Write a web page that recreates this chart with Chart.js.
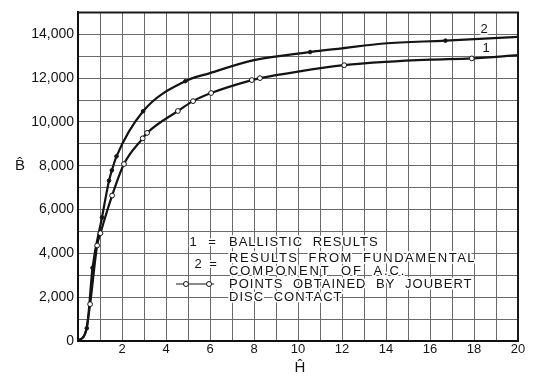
<!DOCTYPE html>
<html>
<head>
<meta charset="utf-8">
<script src="https://cdn.jsdelivr.net/npm/chart.js@4.4.1/dist/chart.umd.min.js"></script>
<style>
  html, body { margin: 0; padding: 0; background: #fff; }
  #wrap { width: 536px; height: 383px; }
</style>
</head>
<body>
<div id="wrap"><canvas id="chart" width="536" height="383"></canvas></div>
<script>
// Magnetisation curves: peak flux density B against peak field H
const xTickLabels = [2, 4, 6, 8, 10, 12, 14, 16, 18, 20];
const yTickLabels = [0, 2000, 4000, 6000, 8000, 10000, 12000, 14000];

// Curve 1 – ballistic results (open circles mark the Joubert disc points)
const curve1H = [0, 0.35, 0.55, 0.87, 1.02, 1.55, 2.09, 2.94, 3.14, 4.54, 5.23, 6.05, 7.9, 8.27, 10.0, 12.1, 14.0, 16.0, 17.9, 20.0];
const curve1B = [0, 420, 1680, 4360, 4920, 6640, 8080, 9250, 9500, 10500, 10950, 11320, 11910, 12000, 12300, 12590, 12740, 12840, 12900, 13050];
const curve1Mark = [0, 0, 1, 1, 1, 1, 1, 1, 1, 1, 1, 1, 1, 1, 0, 1, 0, 0, 1, 0];

// Curve 2 – results from fundamental component of a.c.
const curve2H = [0, 0.40, 0.66, 1.09, 1.41, 1.54, 1.75, 2.96, 4.88, 6.0, 8.0, 10.55, 12.0, 13.9, 16.7, 20.0];
const curve2B = [0, 580, 3340, 5640, 7320, 7790, 8430, 10490, 11860, 12230, 12820, 13190, 13360, 13580, 13710, 13880];
const curve2Mark = [0, 1, 1, 1, 1, 1, 1, 1, 1, 0, 0, 1, 0, 0, 1, 0];

const legendLines = [
  { text: 'BALLISTIC RESULTS', spacing: 1 },
  { text: 'RESULTS FROM FUNDAMENTAL', spacing: 1.5 },
  { text: 'COMPONENT OF A.C.', spacing: 1.9 },
  { text: 'POINTS OBTAINED BY JOUBERT', spacing: 1 },
  { text: 'DISC CONTACT', spacing: 1 }
];

const INK = '#141414';
const FONT = "'Liberation Sans', Arial, Helvetica, sans-serif";

function toPoints(hs, bs) {
  return hs.map((h, i) => ({ x: h, y: bs[i] }));
}

function haloText(ctx, str, x, y) {
  ctx.save();
  ctx.strokeStyle = '#fff';
  ctx.lineWidth = 3.5;
  ctx.lineJoin = 'round';
  ctx.strokeText(str, x, y);
  ctx.restore();
  ctx.fillText(str, x, y);
}

const decorations = {
  id: 'decorations',
  afterDraw(chart) {
    const { ctx, chartArea: a } = chart;
    ctx.save();

    // frame on the top and right edges
    ctx.strokeStyle = '#1a1a1a';
    ctx.lineWidth = 2;
    ctx.beginPath();
    ctx.moveTo(a.left, a.top);
    ctx.lineTo(a.right, a.top);
    ctx.lineTo(a.right, a.bottom);
    ctx.stroke();

    ctx.fillStyle = INK;
    ctx.textBaseline = 'middle';

    // axis titles
    ctx.font = '15px ' + FONT;
    ctx.textAlign = 'center';
    ctx.fillText('B\u0302', 20, 166);
    ctx.fillText('H\u0302', 300, 368);

    // curve numbers at the right-hand end
    ctx.font = '13px ' + FONT;
    haloText(ctx, '2', 484, 29);
    haloText(ctx, '1', 486, 48);

    // legend block inside the plot
    ctx.font = '13px ' + FONT;
    ctx.wordSpacing = '5px';
    const textX = 229;
    const rowY = [242, 258, 271, 284, 297];
    ctx.textAlign = 'left';
    legendLines.forEach((row, i) => {
      ctx.letterSpacing = row.spacing + 'px';
      haloText(ctx, row.text, textX, rowY[i]);
    });
    ctx.letterSpacing = '0px';
    ctx.wordSpacing = '0px';
    ctx.textAlign = 'center';
    haloText(ctx, '1', 193, 242);
    haloText(ctx, '=', 212, 242);
    haloText(ctx, '2', 198, 264);
    haloText(ctx, '=', 213, 264);

    // legend sample: line with open markers
    const ly = rowY[3];
    ctx.strokeStyle = INK;
    ctx.lineWidth = 1;
    ctx.beginPath();
    ctx.moveTo(176, ly);
    ctx.lineTo(214, ly);
    ctx.stroke();
    [186, 209].forEach(mx => {
      ctx.beginPath();
      ctx.arc(mx, ly, 2.5, 0, Math.PI * 2);
      ctx.fillStyle = '#fff';
      ctx.fill();
      ctx.stroke();
    });
    ctx.restore();
  }
};

new Chart(document.getElementById('chart'), {
  type: 'scatter',
  data: {
    datasets: [
      {
        label: '1',
        data: toPoints(curve1H, curve1B),
        showLine: true,
        cubicInterpolationMode: 'monotone',
        borderColor: INK,
        borderWidth: 2.2,
        pointRadius: curve1Mark.map(m => (m ? 2.4 : 0)),
        pointBackgroundColor: '#fff',
        pointBorderColor: INK,
        pointBorderWidth: 1
      },
      {
        label: '2',
        data: toPoints(curve2H, curve2B),
        showLine: true,
        cubicInterpolationMode: 'monotone',
        borderColor: INK,
        borderWidth: 2.2,
        pointRadius: curve2Mark.map(m => (m ? 1.8 : 0)),
        pointBackgroundColor: INK,
        pointBorderColor: INK,
        pointBorderWidth: 1
      }
    ]
  },
  options: {
    responsive: false,
    animation: false,
    layout: { padding: { top: 11, right: 18, left: 0, bottom: 0 } },
    plugins: { legend: { display: false }, tooltip: { enabled: false } },
    scales: {
      x: {
        type: 'linear',
        min: 0,
        max: 20,
        afterFit(scale) { scale.height = 42; },
        ticks: {
          stepSize: 1,
          autoSkip: false,
          maxRotation: 0,
          padding: 1,
          color: INK,
          font: { family: FONT, size: 13 },
          callback: v => (xTickLabels.includes(v) ? String(v) : '')
        },
        grid: { color: '#6a6a6a', lineWidth: 1, drawTicks: false },
        border: { color: '#111', width: 2 }
      },
      y: {
        min: 0,
        max: 15000,
        afterFit(scale) { scale.width = 78; },
        ticks: {
          stepSize: 1000,
          autoSkip: false,
          padding: 4,
          color: INK,
          font: { family: FONT, size: 14 },
          callback: v => (yTickLabels.includes(v) ? v.toLocaleString('en-US') : '')
        },
        grid: { color: '#6a6a6a', lineWidth: 1, drawTicks: false },
        border: { color: '#111', width: 2 }
      }
    }
  },
  plugins: [decorations]
});
</script>
</body>
</html>
